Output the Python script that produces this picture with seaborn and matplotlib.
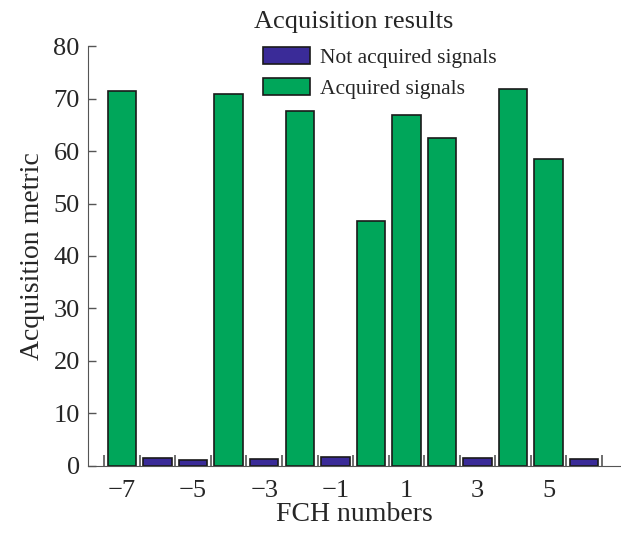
import numpy as np
import pandas as pd
import seaborn as sns
import matplotlib.pyplot as plt
from matplotlib.ticker import FixedLocator

fch = [-7, -6, -5, -4, -3, -2, -1, 0, 1, 2, 3, 4, 5, 6]
metric = [71.5, 1.5, 1.1, 70.8, 1.3, 67.6, 1.7, 46.7, 66.8, 62.5, 1.6, 71.9, 58.4, 1.3]
status = ['Acquired signals', 'Not acquired signals', 'Not acquired signals',
          'Acquired signals', 'Not acquired signals', 'Acquired signals',
          'Not acquired signals', 'Acquired signals', 'Acquired signals',
          'Acquired signals', 'Not acquired signals', 'Acquired signals',
          'Acquired signals', 'Not acquired signals']
hue_order = ['Not acquired signals', 'Acquired signals']
colors = {'Not acquired signals': '#3a2b98', 'Acquired signals': '#00a65a'}

df = pd.DataFrame({'fch': fch, 'metric': metric, 'status': status})

sns.set_style('ticks')
plt.rcParams['font.family'] = ['Liberation Serif', 'DejaVu Serif']
plt.rcParams['axes.edgecolor'] = '#555555'

fig = plt.figure(figsize=(6.21, 5.35), dpi=100)
ax = fig.add_axes([0.142, 0.129, 0.856, 0.785])

sns.barplot(data=df, x='fch', y='metric', hue='status', hue_order=hue_order,
            palette=colors, saturation=1, native_scale=True, dodge=False, width=0.8,
            edgecolor='#1a1a1a', linewidth=1.2, ax=ax)

ax.set_xlim(-7.95, 7.0)
ax.set_ylim(0, 80)
ax.set_xticks([-7, -5, -3, -1, 1, 3, 5])
ax.set_xticklabels(['\u22127', '\u22125', '\u22123', '\u22121', '1', '3', '5'])
ax.xaxis.set_minor_locator(FixedLocator(np.arange(-7.5, 7.0, 1.0)))
ax.set_yticks(range(0, 81, 10))
ax.tick_params(axis='x', which='major', length=0, labelsize=19, pad=10)
ax.tick_params(axis='x', which='minor', direction='in', length=8, width=1.2, color='#555555')
ax.tick_params(axis='y', direction='in', length=6, width=1, color='#555555', labelsize=19, pad=6)
sns.despine(ax=ax)

ax.set_xlabel('FCH numbers', fontsize=20, labelpad=0)
ax.set_ylabel('Acquisition metric', fontsize=20, labelpad=6)
ax.set_title('Acquisition results', fontsize=19, pad=13)

ax.legend(loc='upper left', bbox_to_anchor=(263 / 621, 1 - 47 / 535),
          bbox_transform=fig.transFigure, frameon=False, borderpad=0, borderaxespad=0,
          fontsize=15.5, handlelength=2.2, handleheight=0.85, labelspacing=0.45,
          handletextpad=0.45)

fig.savefig('out.png', dpi=100)
